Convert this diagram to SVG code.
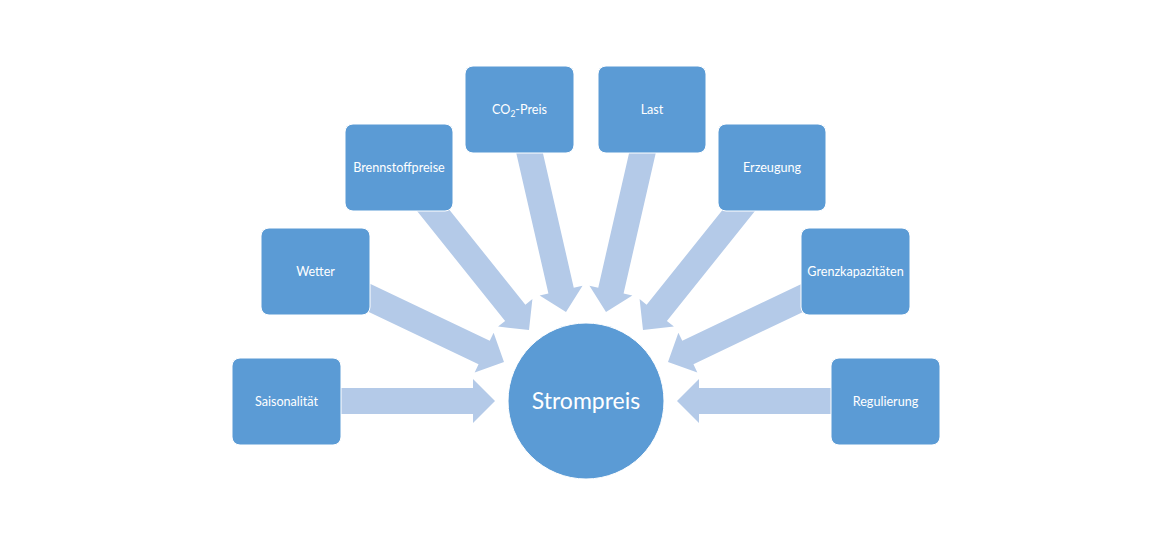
<svg xmlns="http://www.w3.org/2000/svg" width="1170" height="537" viewBox="0 0 1170 537">
<style>
.box{fill:#5B9BD5;stroke:#FFFFFF;stroke-width:1}
.arrow{fill:#B4CAE8}
.lbl{font-family:Lato,"Liberation Sans",sans-serif;font-size:12.6px;fill:#FFFFFF;text-anchor:middle}
.big{font-family:Lato,"Liberation Sans",sans-serif;font-size:23px;fill:#FFFFFF;text-anchor:middle}
</style>
<defs>
<path id="arr" d="M-200,-13 H-22 V-22 L0,0 L-22,22 V13 H-200 Z"/>
</defs>
<rect width="1170" height="537" fill="#FFFFFF"/>
<g id="connectors">
<use href="#arr" class="arrow" transform="translate(495,401) rotate(0)"/>
<use href="#arr" class="arrow" transform="translate(504,362) rotate(25.5)"/>
<use href="#arr" class="arrow" transform="translate(529,330) rotate(51.3)"/>
<use href="#arr" class="arrow" transform="translate(566,312) rotate(77.1)"/>
<use href="#arr" class="arrow" transform="translate(606,312) rotate(102.9)"/>
<use href="#arr" class="arrow" transform="translate(643,330) rotate(128.7)"/>
<use href="#arr" class="arrow" transform="translate(668,362) rotate(154.5)"/>
<use href="#arr" class="arrow" transform="translate(677,401) rotate(180)"/>
</g>
<g id="strompreis">
<circle cx="586" cy="401" r="78" class="box"/>
<text x="586" y="408.5" class="big">Strompreis</text>
</g>
<g id="saisonalitaet">
<rect x="232" y="358" width="109" height="87" rx="8" class="box"/>
<text x="286.5" y="405.5" class="lbl">Saisonalität</text>
</g>
<g id="wetter">
<rect x="261" y="228" width="109" height="87" rx="8" class="box"/>
<text x="315.5" y="275.5" class="lbl">Wetter</text>
</g>
<g id="brennstoffpreise">
<rect x="345" y="124" width="108" height="87" rx="8" class="box"/>
<text x="399" y="171.5" class="lbl">Brennstoffpreise</text>
</g>
<g id="co2preis">
<rect x="465" y="66" width="109" height="87" rx="8" class="box"/>
<text x="519.5" y="113.5" class="lbl">CO<tspan font-size="8.5" dy="3">2</tspan><tspan dy="-3">-Preis</tspan></text>
</g>
<g id="last">
<rect x="598" y="66" width="108" height="87" rx="8" class="box"/>
<text x="652" y="113.5" class="lbl">Last</text>
</g>
<g id="erzeugung">
<rect x="718" y="124" width="108" height="87" rx="8" class="box"/>
<text x="772" y="171.5" class="lbl">Erzeugung</text>
</g>
<g id="grenzkapazitaeten">
<rect x="801" y="228" width="109" height="87" rx="8" class="box"/>
<text x="855.5" y="275.5" class="lbl">Grenzkapazitäten</text>
</g>
<g id="regulierung">
<rect x="831" y="358" width="109" height="87" rx="8" class="box"/>
<text x="885.5" y="405.5" class="lbl">Regulierung</text>
</g>
</svg>
